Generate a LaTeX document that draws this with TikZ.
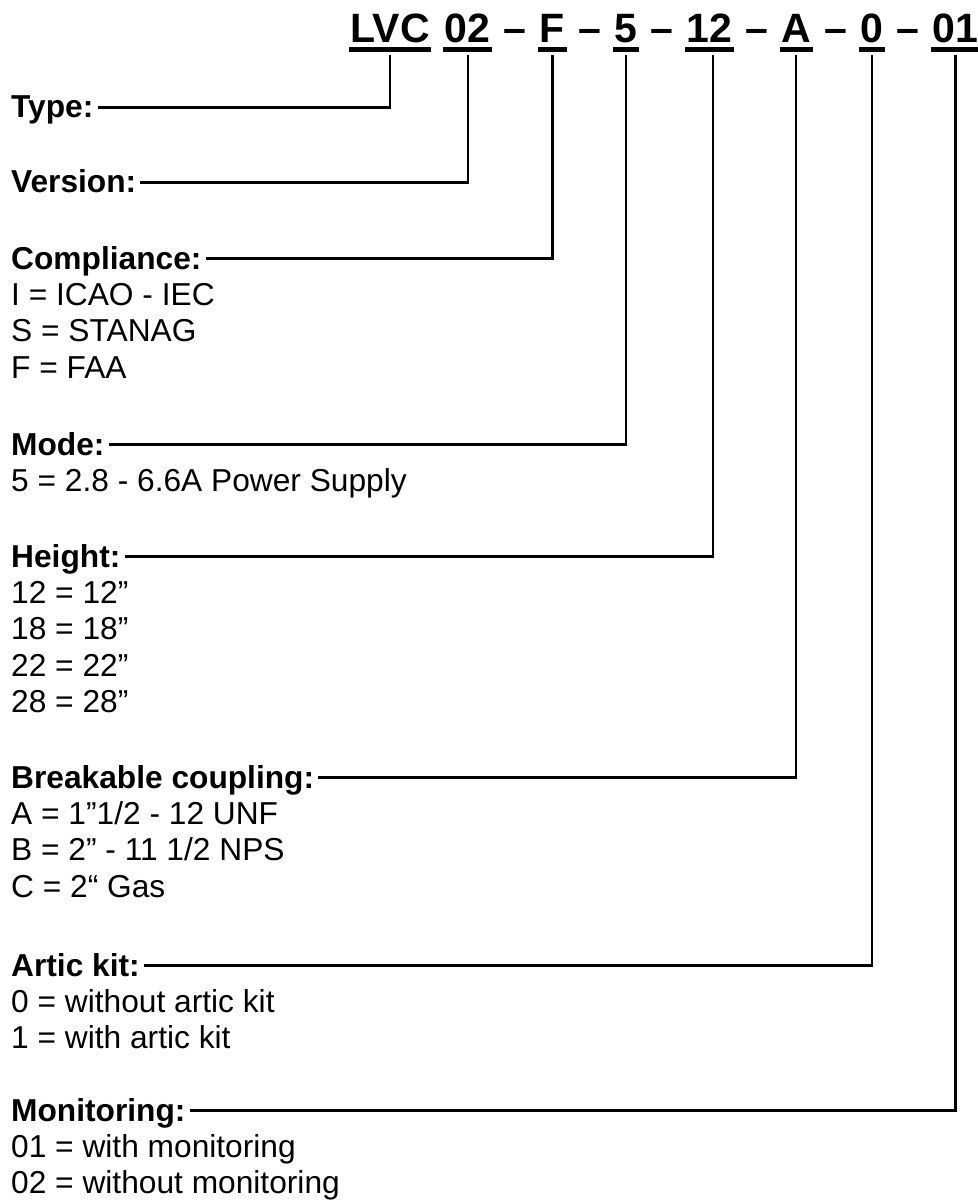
\documentclass[tikz,border=0pt]{standalone}
\usepackage{fontspec}
\setmainfont{Liberation Sans}
\usetikzlibrary{positioning}

\newcommand{\gap}{\kern0.278em}

\tikzset{
  code/.style={font=\fontsize{41pt}{48pt}\selectfont\bfseries, inner xsep=1.5pt, inner ysep=0pt, text height=30pt, text depth=0pt},
  sep/.style={code, inner xsep=0pt},
  head/.style={font=\fontsize{31.7pt}{36pt}\selectfont\bfseries, anchor=base west, inner xsep=4pt, inner ysep=0pt, text height=21pt, text depth=0pt},
  item/.style={font=\fontsize{31.7pt}{36pt}\selectfont, inner xsep=4pt, inner ysep=0pt, text height=24pt, text depth=12pt},
  uline/.style={line width=4.8pt},
  leader/.style={line width=2.3pt},
}

\begin{document}
\begin{tikzpicture}[x=1pt,y=-1pt]
    \useasboundingbox (0,0) rectangle (977,1201);
    % part number
    \node[code, anchor=base west] (code_lvc) at (349,42.5) {LVC};
    \node[sep, right=0pt of code_lvc] (sep0) {\gap};
    \node[code, right=0pt of sep0] (code_ver) {02};
    \node[sep, right=0pt of code_ver] (sep1) {\gap–\gap};
    \node[code, right=0pt of sep1] (code_comp) {F};
    \node[sep, right=0pt of code_comp] (sep2) {\gap–\gap};
    \node[code, right=0pt of sep2] (code_mode) {5};
    \node[sep, right=0pt of code_mode] (sep3) {\gap–\gap};
    \node[code, right=0pt of sep3] (code_height) {12};
    \node[sep, right=0pt of code_height] (sep4) {\gap–\gap};
    \node[code, right=0pt of sep4] (code_coupling) {A};
    \node[sep, right=0pt of code_coupling] (sep5) {\gap–\gap};
    \node[code, right=0pt of sep5] (code_artic) {0};
    \node[sep, right=0pt of code_artic] (sep6) {\gap–\gap};
    \node[code, right=0pt of sep6] (code_monit) {01};
    %
    \node[head] (Type) at (7,118) {Type:};
    \node[head] (Version) at (7,193) {Version:};
    \node[head] (Compliance) at (7,269) {Compliance:};
    \node[item, below right=12pt and 0pt of Compliance.south west] (comp_i) {I = ICAO - IEC};
    \node[item, below right=0pt and 0pt of comp_i.south west] (comp_s) {S = STANAG};
    \node[item, below right=0pt and 0pt of comp_s.south west] (comp_f) {F = FAA};
    \node[head] (Mode) at (7,455) {Mode:};
    \node[item, below right=12pt and 0pt of Mode.south west] (mode_5) {5 = 2.8 - 6.6A Power Supply};
    \node[head] (Height) at (7,567) {Height:};
    \node[item, below right=12pt and 0pt of Height.south west] (height_12) {12 = 12”};
    \node[item, below right=0pt and 0pt of height_12.south west] (height_18) {18 = 18”};
    \node[item, below right=0pt and 0pt of height_18.south west] (height_22) {22 = 22”};
    \node[item, below right=0pt and 0pt of height_22.south west] (height_28) {28 = 28”};
    \node[head] (Coupling) at (7,788) {Breakable coupling:};
    \node[item, below right=12pt and 0pt of Coupling.south west] (coupling_a) {A = 1”1/2 - 12 UNF};
    \node[item, below right=0pt and 0pt of coupling_a.south west] (coupling_b) {B = 2” - 11 1/2 NPS};
    \node[item, below right=0pt and 0pt of coupling_b.south west] (coupling_c) {C = 2“ Gas};
    \node[head] (Artic) at (7,976) {Artic kit:};
    \node[item, below right=12pt and 0pt of Artic.south west] (artic_0) {0 = without artic kit};
    \node[item, below right=0pt and 0pt of artic_0.south west] (artic_1) {1 = with artic kit};
    \node[head] (Monitoring) at (7,1121) {Monitoring:};
    \node[item, below right=12pt and 0pt of Monitoring.south west] (monit_01) {01 = with monitoring};
    \node[item, below right=0pt and 0pt of monit_01.south west] (monit_02) {02 = without monitoring};
    %
    \draw[uline] ([yshift=-6.8pt]code_lvc.south west) -- ([yshift=-6.8pt]code_lvc.south east);
    \draw[uline] ([yshift=-6.8pt]code_ver.south west) -- ([yshift=-6.8pt]code_ver.south east);
    \draw[uline] ([yshift=-6.8pt]code_comp.south west) -- ([yshift=-6.8pt]code_comp.south east);
    \draw[uline] ([yshift=-6.8pt]code_mode.south west) -- ([yshift=-6.8pt]code_mode.south east);
    \draw[uline] ([yshift=-6.8pt]code_height.south west) -- ([yshift=-6.8pt]code_height.south east);
    \draw[uline] ([yshift=-6.8pt]code_coupling.south west) -- ([yshift=-6.8pt]code_coupling.south east);
    \draw[uline] ([yshift=-6.8pt]code_artic.south west) -- ([yshift=-6.8pt]code_artic.south east);
    \draw[uline] ([yshift=-6.8pt]code_monit.south west) -- ([yshift=-6.8pt]code_monit.south east);
    %
    \draw[leader] ([yshift=-12.5pt]code_lvc.south) |- (Type);
    \draw[leader] ([yshift=-12.5pt]code_ver.south) |- (Version);
    \draw[leader] ([yshift=-12.5pt]code_comp.south) |- (Compliance);
    \draw[leader] ([yshift=-12.5pt]code_mode.south) |- (Mode);
    \draw[leader] ([xshift=4pt,yshift=-12.5pt]code_height.south) |- (Height);
    \draw[leader] ([yshift=-12.5pt]code_coupling.south) |- (Coupling);
    \draw[leader] ([yshift=-12.5pt]code_artic.south) |- (Artic);
    \draw[leader] ([yshift=-12.5pt]code_monit.south) |- (Monitoring);
\end{tikzpicture}
\end{document}
